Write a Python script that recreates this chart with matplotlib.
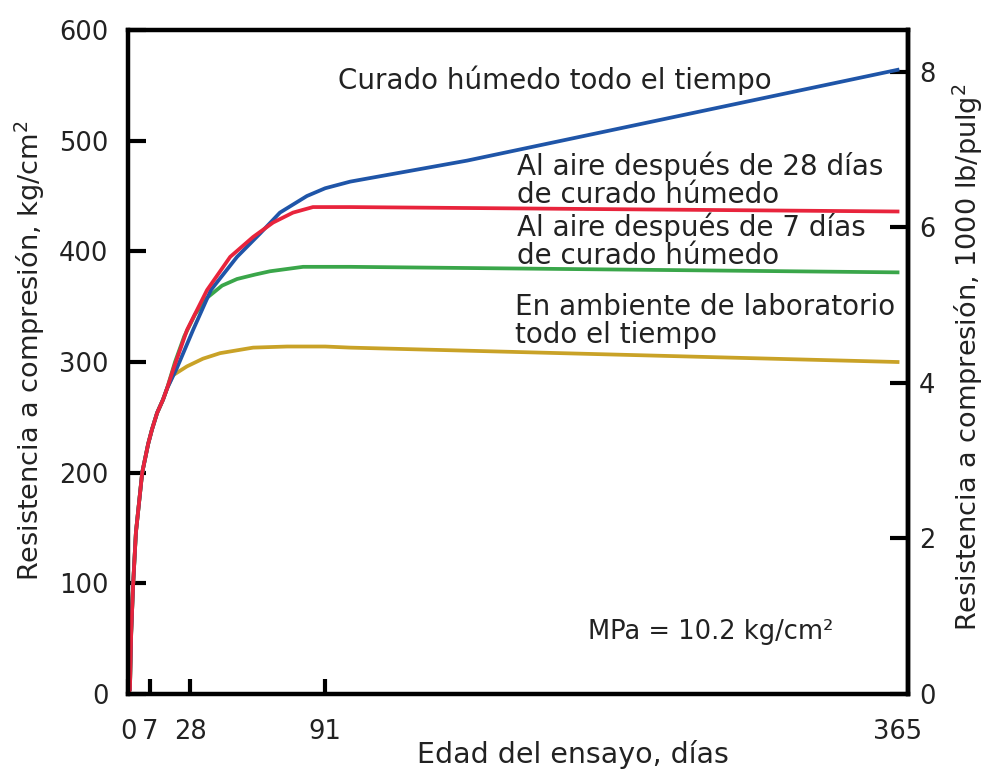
import numpy as np
import matplotlib
matplotlib.use("Agg")
from matplotlib import pyplot as plt

# edad del ensayo (dias) y resistencia (kg/cm2)
trunk_days = [0, 0.6, 1.0, 1.6, 2.5, 4.5, 6.4, 8.0, 10.7, 13.8, 15.9]
trunk_kg = [0, 4, 55, 98, 146, 200, 226, 239, 254, 266, 276]

moist_days = [21.2, 29.4, 37.7, 49.9, 60.6, 69.9, 82.5, 91, 103, 159, 365]
moist_kg = [295, 329, 365, 395, 416, 435, 450, 457, 463, 482, 564]

air28_days = [19.1, 26.4, 35.9, 46.7, 57.4, 66.7, 76, 85.3, 103, 365]
air28_kg = [293, 329, 365, 395, 413, 426, 435, 440, 440, 436]

air7_days = [20.1, 24.9, 30.3, 35.9, 42.9, 49.9, 58.3, 65.3, 80.7, 103, 365]
air7_kg = [300, 323, 343, 358, 369, 375, 379, 382, 386, 386, 381]

lab_days = [19.0, 26.3, 34.0, 42, 57.4, 73.3, 91, 103, 365]
lab_kg = [288, 296, 303, 308, 313, 314, 314, 313, 300]

x_ticks = [0, 7, 28, 91, 365]
y_ticks = [0, 100, 200, 300, 400, 500, 600]
psi_ticks = [0, 2, 4, 6, 8]

# escala del eje x del original (no lineal al principio)
scale_days = [0, 7, 28, 91, 365, 400]
scale_units = [0, 22, 62, 197, 769, 842]


def fwd(x):
    return np.interp(x, scale_days, scale_units)


def inv(u):
    return np.interp(u, scale_units, scale_days)


def curve(days, kg):
    return trunk_days + days, trunk_kg + kg


plt.rcParams['font.family'] = ['DejaVu Sans']
text_color = '#222222'
fs = 20

fig = plt.figure(figsize=(9.88, 7.69), dpi=100)
ax = fig.add_axes([0.1296, 0.0975, 0.7894, 0.8635])

ax.plot(*curve(lab_days, lab_kg), color='#c9a227', lw=2.7)
ax.plot(*curve(air7_days, air7_kg), color='#3aa64a', lw=2.7)
ax.plot(*curve(moist_days, moist_kg), color='#1f55a8', lw=2.7)
ax.plot(*curve(air28_days, air28_kg), color='#e8243c', lw=2.7)

ax.set_xscale('function', functions=(fwd, inv))
ax.set_xlim(0, 370)
ax.set_ylim(0, 600)
ax.set_xticks(x_ticks)
ax.set_xticklabels([str(t) for t in x_ticks])
ax.set_yticks(y_ticks)
ax.minorticks_off()
ax.xaxis.get_major_ticks()[-1].tick1line.set_visible(False)

for s in ax.spines.values():
    s.set_linewidth(3.2)
ax.tick_params(axis='y', direction='in', length=13, width=3, labelsize=18.5,
               labelcolor=text_color, pad=14)
ax.tick_params(axis='x', direction='in', length=11, width=3, labelsize=18.5,
               labelcolor=text_color, pad=18)

sec = ax.secondary_yaxis('right', functions=(lambda k: k * 14.223 / 1000,
                                             lambda p: p * 1000 / 14.223))
sec.set_yticks(psi_ticks)
sec.spines['right'].set_linewidth(3.2)
sec.tick_params(direction='in', length=13, width=3, labelsize=18.5,
                labelcolor=text_color, pad=8)
fig.text(968 / 988, 1 - 357 / 769, 'Resistencia a compresión, 1000 lb/pulg$^2$',
         fontsize=19.5, color=text_color, rotation=90, ha='center', va='center')

ax.set_ylabel('Resistencia a compresión, kg/cm$^2$', fontsize=19.5,
              color=text_color)
ax.yaxis.set_label_coords(-0.104, 0.517)
ax.set_xlabel('Edad del ensayo, días', fontsize=20.5, color=text_color)
ax.xaxis.set_label_coords(0.57, -0.069)

ax.text(97, 555, 'Curado húmedo todo el tiempo', fontsize=fs,
        color=text_color, va='center')
ax.text(183, 464, 'Al aire después de 28 días\nde curado húmedo', fontsize=fs,
        color=text_color, va='center', linespacing=1.0)
ax.text(183, 409, 'Al aire después de 7 días\nde curado húmedo', fontsize=fs,
        color=text_color, va='center', linespacing=1.0)
ax.text(182, 337, 'En ambiente de laboratorio\ntodo el tiempo', fontsize=fs,
        color=text_color, va='center', linespacing=1.0)
ax.text(217, 56, 'MPa = 10.2 kg/cm²', fontsize=18.5, color=text_color,
        va='center')

plt.savefig('out.png', dpi=100)
print("Image saved.")
